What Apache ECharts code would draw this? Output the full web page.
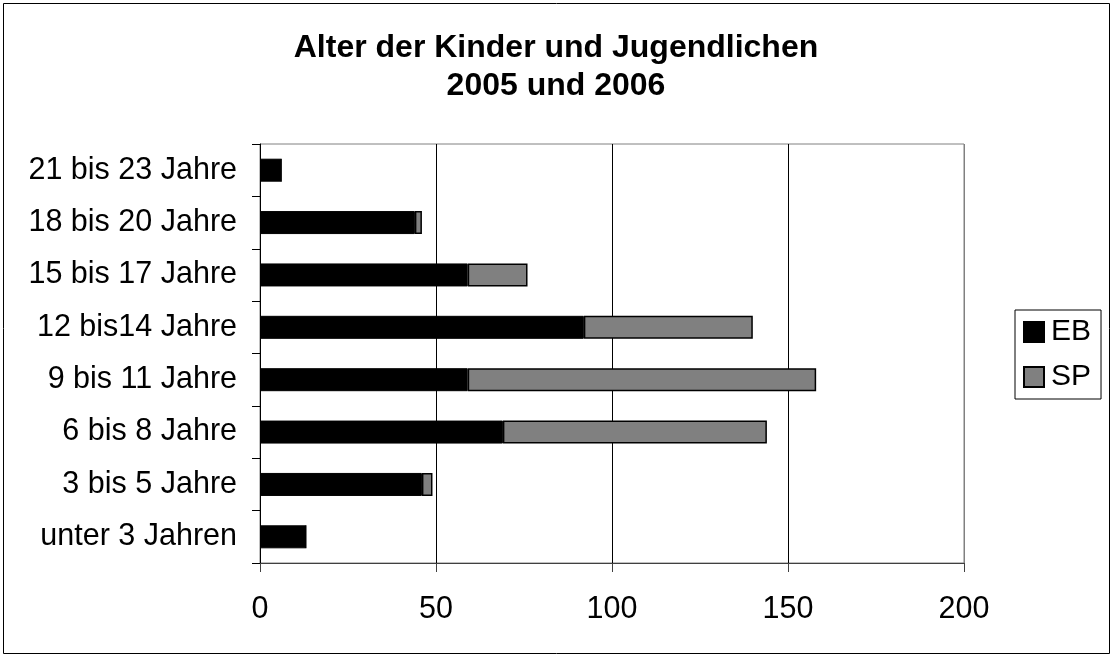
<!DOCTYPE html>
<html>
<head>
<meta charset="utf-8">
<script src="https://cdn.jsdelivr.net/npm/echarts@6/dist/echarts.min.js"></script>
<style>
html,body{margin:0;padding:0;background:#fff;}
#chart{width:1112px;height:657px;}
</style>
</head>
<body>
<div id="chart"></div>
<script>
const categories = ['unter 3 Jahren', '3 bis 5 Jahre', '6 bis 8 Jahre', '9 bis 11 Jahre', '12 bis14 Jahre', '15 bis 17 Jahre', '18 bis 20 Jahre', '21 bis 23 Jahre'];
const ebValues = [13, 46, 69, 59, 92, 59, 44, 6];
const spValues = [0, 3, 75, 99, 48, 17, 2, 0];
const xTicks = [0, 50, 100, 150, 200];

const FONT = "'Liberation Sans', Arial, sans-serif";
const chart = echarts.init(document.getElementById('chart'), null, {renderer: 'canvas'});
chart.setOption({
  animation: false,
  backgroundColor: '#fff',
  textStyle: {fontFamily: FONT},
  title: {
    text: 'Alter der Kinder und Jugendlichen\n2005 und 2006',
    left: 'center',
    top: 24,
    textStyle: {fontFamily: FONT, fontSize: 32, fontWeight: 'bold', color: '#000', lineHeight: 38}
  },
  graphic: [{
    type: 'rect',
    shape: {x: 3.5, y: 3.5, width: 1106, height: 650},
    style: {fill: 'none', stroke: '#000', lineWidth: 1},
    silent: true
  }],
  legend: {
    orient: 'vertical',
    left: 1015,
    top: 310,
    padding: [7, 10, 7, 8],
    itemWidth: 20,
    itemHeight: 20,
    itemGap: 15,
    borderColor: '#000',
    borderWidth: 1,
    borderRadius: 0,
    icon: 'rect',
    textStyle: {fontFamily: FONT, fontSize: 30, color: '#000', padding: [0, 0, 0, 2]},
    data: ['EB', 'SP']
  },
  grid: {
    left: 260, top: 144, right: 148, bottom: 94,
    show: true, borderColor: '#808080', borderWidth: 1,
    containLabel: false
  },
  xAxis: {
    type: 'value',
    min: xTicks[0],
    max: xTicks[xTicks.length - 1],
    interval: 50,
    axisLine: {show: true, lineStyle: {color: '#404040', width: 1}},
    axisTick: {show: true, length: 9, lineStyle: {color: '#404040'}},
    axisLabel: {fontFamily: FONT, fontSize: 30.5, color: '#000', margin: 31},
    splitLine: {show: true, lineStyle: {color: ['#000', '#000', '#000', '#000', '#808080'], width: 1}}
  },
  yAxis: {
    type: 'category',
    data: categories,
    axisLine: {show: true, lineStyle: {color: '#000', width: 1}},
    axisTick: {show: true, length: 8, alignWithLabel: false, lineStyle: {color: '#000'}},
    axisLabel: {fontFamily: FONT, fontSize: 30.5, color: '#000', margin: 23, padding: [4, 0, 0, 0]},
    splitLine: {show: false}
  },
  series: [
    {
      name: 'EB', type: 'bar', stack: 'total', data: ebValues, barWidth: 23,
      itemStyle: {color: '#000', borderColor: '#000', borderWidth: 1}
    },
    {
      name: 'SP', type: 'bar', stack: 'total', data: spValues, barWidth: 23,
      itemStyle: {color: '#808080', borderColor: '#000', borderWidth: 1.5}
    }
  ]
});
</script>
</body>
</html>
